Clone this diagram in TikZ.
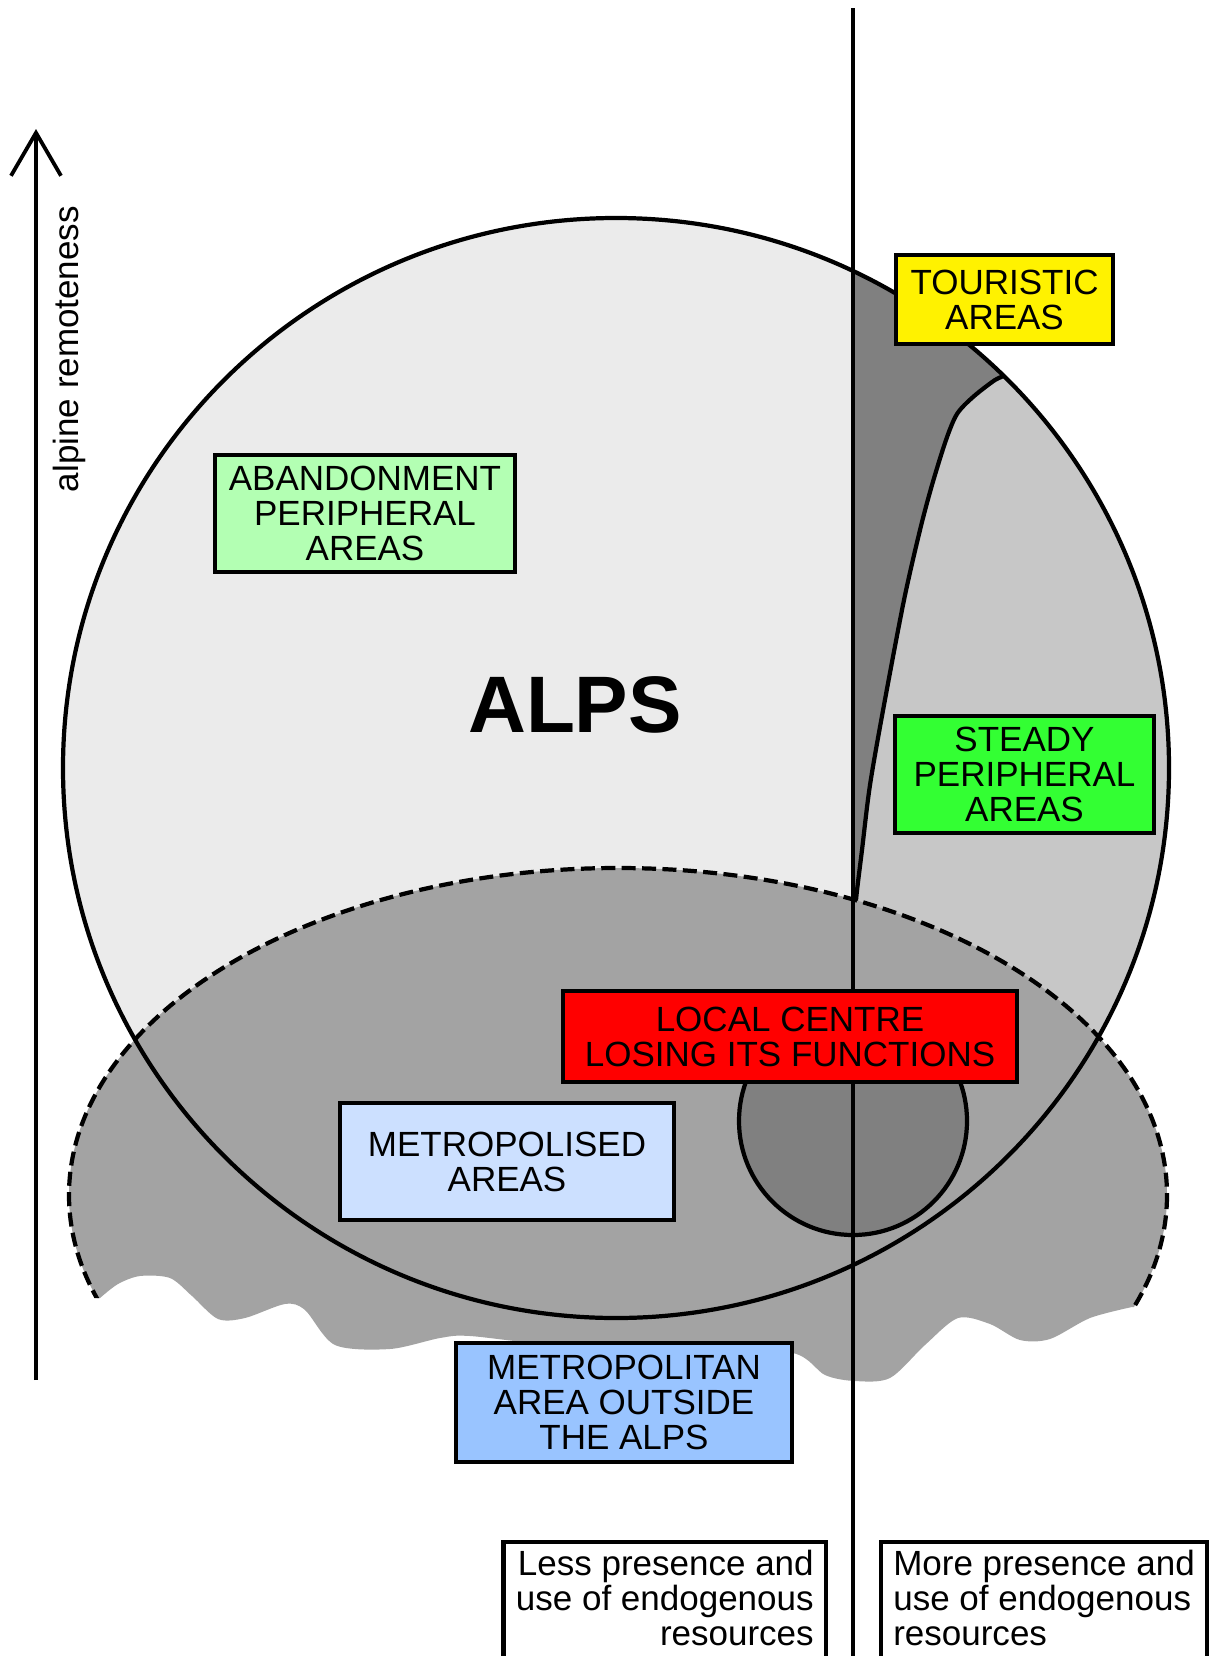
\documentclass[tikz,border=0pt]{standalone}
\usepackage{fontspec}
\setmainfont{Liberation Sans}
\usetikzlibrary{arrows.meta}
\definecolor{alpsgray}{gray}{0.92}
\definecolor{steadygray}{gray}{0.78}
\definecolor{touristgray}{gray}{0.5}
\definecolor{metrogray}{gray}{0.64}
\definecolor{touryellow}{RGB}{255,242,0}
\definecolor{abandgreen}{RGB}{179,255,179}
\definecolor{steadygreen}{RGB}{51,255,51}
\definecolor{localred}{RGB}{255,0,0}
\definecolor{metroblue}{RGB}{204,224,255}
\definecolor{outsideblue}{RGB}{153,196,255}
\newcommand\labelfont{\fontsize{24.9pt}{24.9pt}\selectfont}
\tikzset{
  area/.style={draw, line width=3.4pt, font=\labelfont, align=center, inner sep=0pt},
  border/.style={line width=3pt},
  frame/.style={line width=3.2pt}
}
\begin{document}
\begin{tikzpicture}[x=0.25mm, y=-0.25mm]
\useasboundingbox (0,0) rectangle (1212,1656);

\fill[alpsgray] (616,768) ellipse[x radius=553, y radius=550];
\begin{scope}
\clip (616,768) ellipse[x radius=553, y radius=550];
\fill[steadygray] (853,0) rectangle (1212,1400);
\fill[touristgray] (853,100) -- plot[smooth] coordinates {(853,945) (856,900) (862,850) (870,785)
  (884,705) (904,600) (920,530) (932,485) (946,440) (957,414) (973,397) (995,380) (1007,375)}
  -- (1100,330) -- (1100,100) -- cycle;
\draw[border] plot[smooth] coordinates {(1007,375) (995,380) (973,397) (957,414) (946,440) (932,485)
  (920,530) (904,600) (884,705) (870,785) (862,850) (856,900) (853,945)};
\end{scope}

\begin{scope}
\clip (0,800) -- (0,1298) -- plot[smooth] coordinates {(100,1298) (118,1284) (140,1276) (170,1278)
  (192,1296) (218,1319) (245,1318) (285,1304) (305,1310) (335,1345) (390,1349) (440,1338) (470,1336)
  (560,1345) (700,1345) (793,1353) (825,1375) (855,1381) (890,1378) (925,1345) (958,1318) (990,1324)
  (1020,1340) (1050,1339) (1090,1318) (1132,1307)} -- (1212,1307) -- (1212,800) -- cycle;
\fill[metrogray] (618,1195) ellipse[x radius=549, y radius=327];
\draw[border, dash pattern=on 3.5mm off 1.6mm] (618,1195) ellipse[x radius=549, y radius=327];
\end{scope}

\draw[border] (616,768) ellipse[x radius=553, y radius=550];
\draw[border, fill=touristgray] (853,1121) circle[radius=114];

\coordinate (divtop) at (853,8);
\coordinate (divbot) at (853,1656);
\draw[line width=2.7pt] (divtop) -- (divbot);

\coordinate (axisfoot) at (36,1380);
\coordinate (axishead) at (36,129);
\draw[line width=2.7pt, -{Straight Barb[length=10.75mm, width=12.5mm]}] (axisfoot) -- (axishead);
\node[rotate=90, font=\labelfont] (remote) at (69,349) {alpine remoteness};

\node[font=\fontsize{57pt}{57pt}\selectfont\bfseries] (alps) at (575,705) {ALPS};

\node[area, fill=touryellow, minimum width=54.25mm, minimum height=22.25mm] (tour) at (1004.5,299.5) {TOURISTIC\\AREAS};
\node[area, fill=abandgreen, minimum width=75mm, minimum height=29.25mm] (aband) at (365,513.5) {ABANDONMENT\\PERIPHERAL\\AREAS};
\node[area, fill=steadygreen, minimum width=64.75mm, minimum height=29.25mm] (steady) at (1024.5,774.5) {STEADY\\PERIPHERAL\\AREAS};
\node[area, fill=localred, minimum width=113.5mm, minimum height=22.75mm] (local) at (790,1036.5) {LOCAL CENTRE\\LOSING ITS FUNCTIONS};
\node[area, fill=metroblue, minimum width=83.5mm, minimum height=29.25mm] (metrop) at (507,1161.5) {METROPOLISED\\AREAS};
\node[area, fill=outsideblue, minimum width=84mm, minimum height=29.75mm] (outside) at (624,1402.5) {METROPOLITAN\\AREA OUTSIDE\\THE ALPS};

\node[font=\labelfont, align=right, anchor=north east, inner xsep=3mm, inner ysep=1.9mm] (less) at (826,1542) {Less presence and\\use of endogenous\\resources};
\draw[frame] ([yshift=-15mm]less.south west) |- (less.north east) -- ([yshift=-15mm]less.south east);
\node[font=\labelfont, align=left, anchor=north west, inner xsep=3mm, inner ysep=1.9mm] (more) at (881,1542) {More presence and\\use of endogenous\\resources};
\draw[frame] ([yshift=-15mm]more.south west) |- (more.north east) -- ([yshift=-15mm]more.south east);
\end{tikzpicture}
\end{document}
